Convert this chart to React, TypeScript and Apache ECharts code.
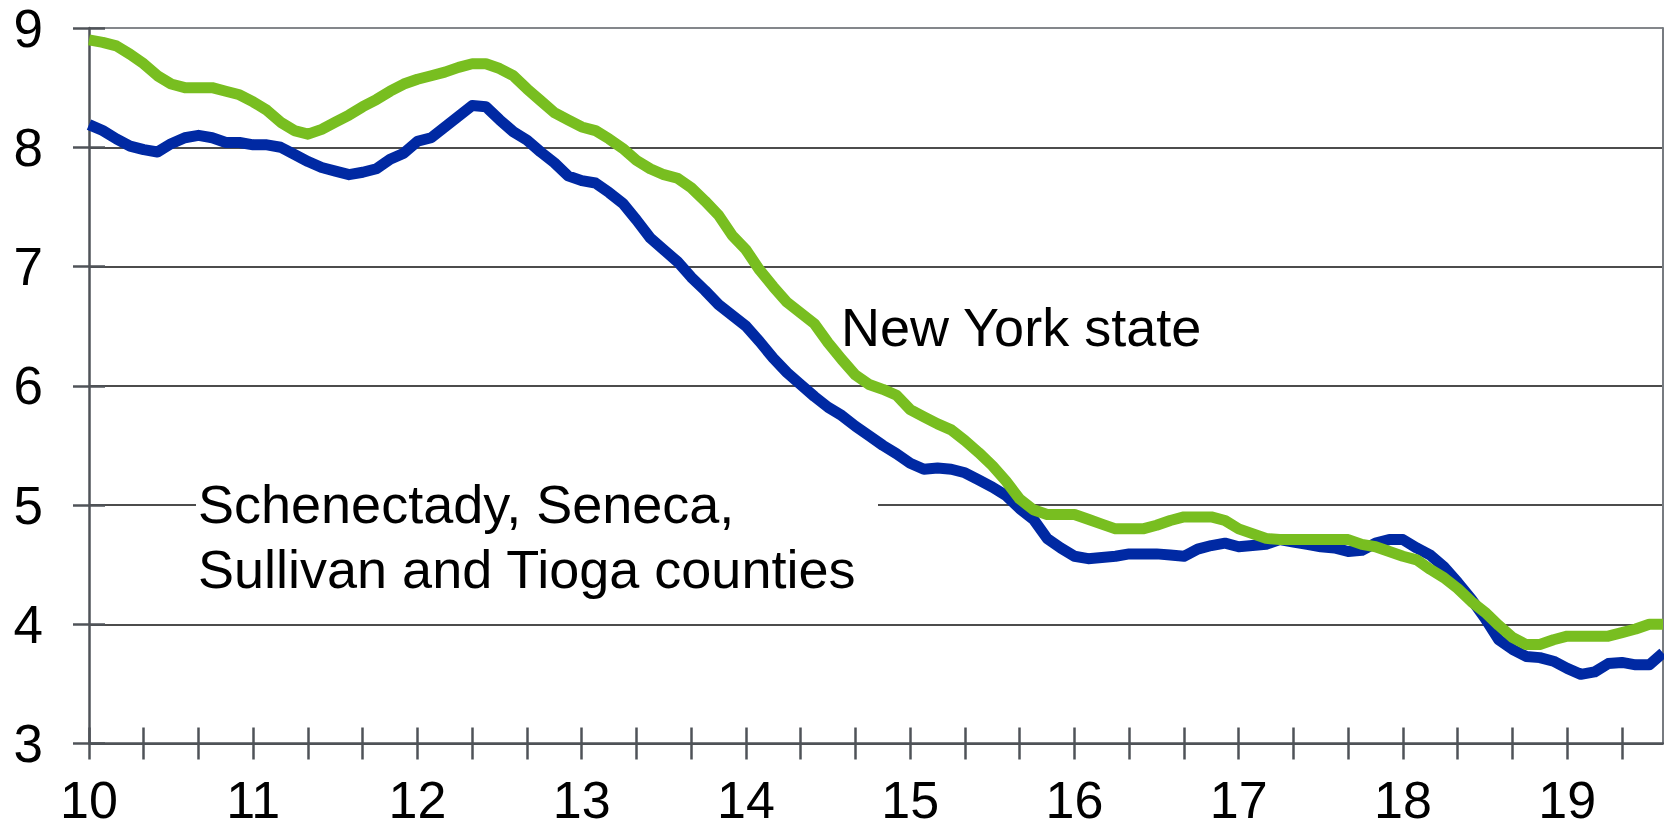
import React, { useEffect, useRef } from "react";
import * as echarts from "echarts";

// Monthly categories, Jan 2010 .. Aug 2019
const START_YEAR = 2010;
const MONTH_COUNT = 116;
const months: string[] = [];
for (let i = 0; i < MONTH_COUNT; i++) {
  const y = START_YEAR + Math.floor(i / 12);
  const m = (i % 12) + 1;
  months.push(`${y}-${m < 10 ? "0" + m : m}`);
}

const yTicks = [3, 4, 5, 6, 7, 8, 9];

// Schenectady, Seneca, Sullivan and Tioga counties (blue)
const counties: number[] = [
  8.19, 8.14, 8.07, 8.01, 7.98, 7.96, 8.03, 8.08, 8.10, 8.08, 8.04, 8.04,
  8.02, 8.02, 8.00, 7.94, 7.88, 7.83, 7.80, 7.77, 7.79, 7.82, 7.90, 7.95,
  8.05, 8.08, 8.17, 8.26, 8.35, 8.34, 8.23, 8.13, 8.06, 7.96, 7.87, 7.76,
  7.72, 7.70, 7.62, 7.53, 7.39, 7.24, 7.14, 7.04, 6.91, 6.80, 6.68, 6.59,
  6.50, 6.37, 6.23, 6.11, 6.01, 5.91, 5.82, 5.75, 5.66, 5.58, 5.50, 5.43,
  5.35, 5.30, 5.31, 5.30, 5.27, 5.21, 5.15, 5.08, 4.97, 4.88, 4.72, 4.64,
  4.57, 4.55, 4.56, 4.57, 4.59, 4.59, 4.59, 4.58, 4.57, 4.63, 4.66, 4.68,
  4.65, 4.66, 4.67, 4.71, 4.69, 4.67, 4.65, 4.64, 4.61, 4.62, 4.68, 4.71,
  4.71, 4.64, 4.58, 4.48, 4.35, 4.21, 4.05, 3.87, 3.79, 3.73, 3.72, 3.69,
  3.63, 3.58, 3.60, 3.67, 3.68, 3.66, 3.66, 3.76,
];

// New York state (green)
const newYorkState: number[] = [
  8.90, 8.88, 8.85, 8.78, 8.70, 8.60, 8.53, 8.50, 8.50, 8.50, 8.47, 8.44,
  8.38, 8.31, 8.21, 8.14, 8.11, 8.15, 8.21, 8.27, 8.34, 8.40, 8.47, 8.53,
  8.57, 8.60, 8.63, 8.67, 8.70, 8.70, 8.66, 8.60, 8.49, 8.39, 8.29, 8.23,
  8.17, 8.14, 8.07, 7.99, 7.89, 7.82, 7.77, 7.74, 7.66, 7.55, 7.43, 7.26,
  7.14, 6.97, 6.83, 6.70, 6.61, 6.52, 6.36, 6.22, 6.09, 6.01, 5.97, 5.92,
  5.80, 5.74, 5.68, 5.63, 5.54, 5.44, 5.33, 5.20, 5.05, 4.96, 4.92, 4.92,
  4.92, 4.88, 4.84, 4.80, 4.80, 4.80, 4.83, 4.87, 4.90, 4.90, 4.90, 4.87,
  4.80, 4.76, 4.72, 4.71, 4.71, 4.71, 4.71, 4.71, 4.71, 4.67, 4.65, 4.61,
  4.57, 4.54, 4.46, 4.39, 4.30, 4.19, 4.10, 3.99, 3.89, 3.83, 3.83, 3.87,
  3.90, 3.90, 3.90, 3.90, 3.93, 3.96, 4.00, 4.00,
];

const LABEL_COUNTIES_1 = "Schenectady, Seneca,";
const LABEL_COUNTIES_2 = "Sullivan and Tioga counties";
const LABEL_STATE = "New York state";

const FONT = "'Liberation Sans', Arial, Helvetica, sans-serif";
const AXIS_GRAY = "#4f5358";
const BLUE = "#0029a3";
const GREEN = "#78be20";

export default function App() {
  const ref = useRef<HTMLDivElement>(null);

  useEffect(() => {
    if (!ref.current) return;
    const chart = echarts.init(ref.current, undefined, { renderer: "svg" });
    const yMin = yTicks[0];
    const yMax = yTicks[yTicks.length - 1];
    chart.setOption({
      animation: false,
      backgroundColor: "#ffffff",
      grid: { left: 89, right: 1, top: 28, bottom: 85.5, containLabel: false },
      xAxis: [
        {
          type: "category",
          data: months,
          boundaryGap: false,
          position: "bottom",
          axisLine: { show: true, lineStyle: { color: AXIS_GRAY, width: 2.5 } },
          axisTick: {
            show: true,
            interval: 3,
            length: 16,
            inside: false,
            lineStyle: { color: AXIS_GRAY, width: 2.5 },
          },
          axisLabel: {
            show: true,
            interval: 11,
            margin: 34,
            lineHeight: 44,
            color: "#000",
            fontSize: 52,
            fontFamily: FONT,
            formatter: (v: string) => (v.endsWith("-01") ? v.slice(2, 4) : ""),
          },
          splitLine: { show: false },
        },
        {
          type: "category",
          data: months,
          boundaryGap: false,
          position: "bottom",
          axisLine: { show: false },
          axisTick: {
            show: true,
            interval: 3,
            length: 16,
            inside: true,
            lineStyle: { color: AXIS_GRAY, width: 2.5 },
          },
          axisLabel: { show: false },
          splitLine: { show: false },
        },
      ],
      yAxis: [
        {
          type: "value",
          min: yMin,
          max: yMax,
          interval: 1,
          position: "left",
          axisLine: { show: true, lineStyle: { color: AXIS_GRAY, width: 2.5 } },
          axisTick: {
            show: true,
            length: 16,
            inside: false,
            lineStyle: { color: AXIS_GRAY, width: 2.5 },
          },
          axisLabel: {
            show: true,
            margin: 46,
            color: "#000",
            fontSize: 53,
            fontFamily: FONT,
          },
          splitLine: {
            show: true,
            lineStyle: {
              color: ["#111", "#111", "#111", "#111", "#111", "#111", "#5b5f64"],
              width: 1.6,
            },
          },
        },
        {
          type: "value",
          min: yMin,
          max: yMax,
          interval: 1,
          position: "left",
          axisLine: { show: false },
          axisTick: {
            show: true,
            length: 16,
            inside: true,
            lineStyle: { color: AXIS_GRAY, width: 2.5 },
          },
          axisLabel: { show: false },
          splitLine: { show: false },
        },
        {
          type: "value",
          min: yMin,
          max: yMax,
          interval: 1,
          position: "right",
          axisLine: { show: true, lineStyle: { color: "#777b80", width: 2 } },
          axisTick: { show: false },
          axisLabel: { show: false },
          splitLine: { show: false },
        },
      ],
      series: [
        {
          name: "Schenectady, Seneca, Sullivan and Tioga counties",
          type: "line",
          data: counties,
          xAxisIndex: 0,
          yAxisIndex: 0,
          showSymbol: false,
          symbol: "none",
          lineStyle: { color: BLUE, width: 11, join: "round", cap: "butt" },
          z: 3,
        },
        {
          name: "New York state",
          type: "line",
          data: newYorkState,
          xAxisIndex: 0,
          yAxisIndex: 0,
          showSymbol: false,
          symbol: "none",
          lineStyle: { color: GREEN, width: 11, join: "round", cap: "butt" },
          z: 4,
        },
      ],
      graphic: [
        {
          type: "rect",
          shape: { x: 196, y: 482, width: 682, height: 118 },
          style: { fill: "#ffffff" },
          z: 1,
          silent: true,
        },
        {
          type: "text",
          x: 198,
          y: 504,
          z: 10,
          style: {
            text: LABEL_COUNTIES_1,
            fill: "#000",
            font: `54px ${FONT}`,
            verticalAlign: "middle",
            align: "left",
          },
        },
        {
          type: "text",
          x: 198,
          y: 569,
          z: 10,
          style: {
            text: LABEL_COUNTIES_2,
            fill: "#000",
            font: `54px ${FONT}`,
            verticalAlign: "middle",
            align: "left",
          },
        },
        {
          type: "text",
          x: 841,
          y: 327,
          z: 10,
          style: {
            text: LABEL_STATE,
            fill: "#000",
            font: `54px ${FONT}`,
            verticalAlign: "middle",
            align: "left",
          },
        },
      ],
    });
    return () => {
      chart.dispose();
    };
  }, []);

  return (
    <div
      ref={ref}
      style={{
        position: "fixed",
        left: 0,
        top: 0,
        width: 1664,
        height: 829,
        background: "#ffffff",
      }}
    />
  );
}
